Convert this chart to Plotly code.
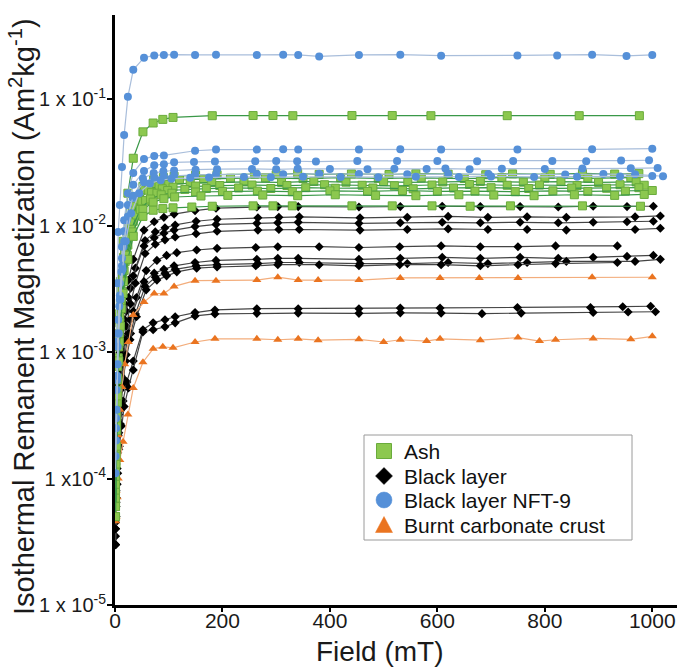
import plotly.graph_objects as go

# ---------------- data (field in mT, IRM in Am2/kg) ----------------
# Ash
ash_f1 = [1, 3, 5, 7, 10, 15, 24, 34, 52, 71, 89, 108, 181, 257, 294, 331, 441, 516, 588, 730, 864, 976]
ash_v1 = [1.2e-4, 4.5e-4, 1.1e-3, 2.0e-3, 3.6e-3, 7.5e-3, 0.018, 0.034, 0.055, 0.0646, 0.069, 0.0715, 0.0738, 0.0740, 0.0740, 0.0738, 0.0740, 0.0740, 0.0738, 0.0738, 0.0738, 0.0738]
ash_f2 = [1, 3, 5, 8, 11, 16, 22, 33, 52, 72, 90, 110, 150, 190, 260, 300, 340, 380, 440, 510, 560, 620, 690, 740, 810, 870, 930, 975]
ash_v2 = [1.0e-4, 3.1e-4, 7.7e-4, 1.8e-3, 3.1e-3, 5.6e-3, 8.9e-3, 0.014, 0.0204, 0.023, 0.024, 0.0245, 0.025, 0.0252, 0.0255, 0.0252, 0.0258, 0.0254, 0.0256, 0.0253, 0.0257, 0.0255, 0.0252, 0.0256, 0.0254, 0.0258, 0.0255, 0.0257]
ash_f3 = [1, 3, 6, 9, 13, 18, 25, 36, 55, 75, 95, 120, 165, 215, 280, 350, 420, 490, 570, 650, 720, 800, 880, 960]
ash_v3 = [8e-5, 2.8e-4, 9e-4, 1.9e-3, 3.6e-3, 6.2e-3, 9.8e-3, 0.0142, 0.0192, 0.0215, 0.0224, 0.0229, 0.0233, 0.0236, 0.0238, 0.0235, 0.0239, 0.0236, 0.0238, 0.0235, 0.0239, 0.0237, 0.0236, 0.0239]
ash_f4 = [1, 2, 4, 7, 10, 14, 20, 30, 45, 62, 82, 100, 140, 180, 240, 310, 370, 430, 500, 545, 610, 680, 760, 830, 900, 970]
ash_v4 = [7e-5, 1.6e-4, 5e-4, 1.3e-3, 2.4e-3, 4.2e-3, 7.0e-3, 0.0112, 0.0160, 0.0190, 0.0205, 0.0211, 0.0216, 0.0219, 0.0221, 0.0219, 0.0223, 0.0220, 0.0222, 0.0219, 0.0221, 0.0223, 0.0220, 0.0222, 0.0219, 0.0221]
ash_f5 = [1, 3, 5, 8, 12, 17, 24, 34, 50, 68, 88, 108, 150, 195, 255, 320, 390, 460, 520, 590, 660, 730, 790, 860, 940, 985]
ash_v5 = [6e-5, 2.4e-4, 6e-4, 1.4e-3, 2.6e-3, 4.4e-3, 7.0e-3, 0.0108, 0.0156, 0.0182, 0.0195, 0.0201, 0.0205, 0.0207, 0.0209, 0.0207, 0.0210, 0.0208, 0.0206, 0.0209, 0.0211, 0.0208, 0.0209, 0.0207, 0.0210, 0.0208]
ash_f6 = [1, 2, 4, 6, 9, 13, 19, 28, 40, 57, 78, 98, 130, 170, 230, 290, 355, 410, 480, 555, 630, 700, 770, 850, 915, 975]
ash_v6 = [5e-5, 1.3e-4, 4e-4, 8.5e-4, 1.7e-3, 3.0e-3, 5.2e-3, 8.4e-3, 0.0121, 0.0158, 0.0180, 0.0189, 0.0193, 0.0196, 0.0198, 0.0196, 0.0199, 0.0197, 0.0198, 0.0195, 0.0198, 0.0199, 0.0196, 0.0198, 0.0197, 0.0199]
ash_f7 = [1, 3, 5, 7, 11, 15, 21, 31, 47, 66, 86, 106, 150, 200, 265, 330, 400, 470, 535, 600, 670, 745, 815, 880, 950, 1000]
ash_v7 = [9e-5, 2.6e-4, 6.2e-4, 1.1e-3, 2.3e-3, 3.7e-3, 5.9e-3, 9.3e-3, 0.0134, 0.0162, 0.0175, 0.0180, 0.0184, 0.0186, 0.0187, 0.0185, 0.0188, 0.0186, 0.0189, 0.0186, 0.0187, 0.0185, 0.0188, 0.0186, 0.0187, 0.0189]
ash_f8 = [1, 2, 4, 8, 12, 16, 23, 33, 52, 71, 91, 111, 160, 210, 275, 340, 410, 485, 560, 640, 705, 780, 855, 930, 985]
ash_v8 = [6e-5, 1.5e-4, 4e-4, 1.2e-3, 2.2e-3, 3.6e-3, 5.8e-3, 8.9e-3, 0.0134, 0.0153, 0.0163, 0.0168, 0.0171, 0.0173, 0.0174, 0.0172, 0.0175, 0.0173, 0.0172, 0.0175, 0.0174, 0.0172, 0.0175, 0.0173, 0.0176]
ash_f9 = [1, 3, 5, 7, 10, 15, 24, 34, 52, 71, 89, 108, 143, 181, 257, 294, 330, 441, 516, 590, 661, 736, 870, 978]
ash_v9 = [5e-5, 1.8e-4, 4.5e-4, 8.5e-4, 1.6e-3, 2.9e-3, 5.4e-3, 8.2e-3, 0.0118, 0.0132, 0.0136, 0.0138, 0.0140, 0.0142, 0.0143, 0.0143, 0.0143, 0.0143, 0.0143, 0.0143, 0.0142, 0.0143, 0.0143, 0.0142]

# Black layer
blk_fa = [0.5, 2, 4, 6, 9, 13, 18, 25, 34, 54, 73, 91, 110, 149, 188, 264, 303, 341, 454, 531, 609, 680, 754, 825, 890, 953, 1002]
blk_fb = [1, 3, 5, 8, 11, 15, 21, 29, 38, 56, 75, 93, 112, 151, 190, 266, 305, 343, 456, 544, 620, 694, 767, 840, 968, 1015]
blk_fc = [1, 2, 4, 7, 10, 14, 20, 28, 40, 58, 78, 96, 115, 152, 190, 262, 303, 380, 454, 530, 607, 680, 750, 820, 935]
blk_v1 = [7e-5, 1.7e-4, 3.5e-4, 5.6e-4, 9.9e-4, 1.55e-3, 2.4e-3, 3.7e-3, 5.4e-3, 9.2e-3, 0.0107, 0.0116, 0.0123, 0.0131, 0.0137, 0.0140, 0.0141, 0.0141, 0.0140, 0.0141, 0.0142, 0.0141, 0.0141, 0.0140, 0.0142, 0.0141, 0.0142]
blk_v2 = [6e-5, 1.5e-4, 2.9e-4, 5.1e-4, 8.4e-4, 1.3e-3, 2.1e-3, 3.2e-3, 4.6e-3, 7.6e-3, 8.9e-3, 9.6e-3, 0.0101, 0.0108, 0.0112, 0.0115, 0.0116, 0.0117, 0.0115, 0.0116, 0.0118, 0.0116, 0.0117, 0.0116, 0.0117, 0.0119]
blk_v3 = [5e-5, 1.3e-4, 2.6e-4, 4.2e-4, 7.3e-4, 1.15e-3, 1.8e-3, 2.7e-3, 4.0e-3, 6.9e-3, 8.0e-3, 8.7e-3, 9.2e-3, 9.8e-3, 0.0102, 0.0104, 0.0105, 0.0106, 0.0104, 0.0105, 0.0106, 0.0105, 0.0106, 0.0105, 0.0106, 0.0107, 0.0108]
blk_v4 = [4.5e-5, 1.1e-4, 2.3e-4, 3.8e-4, 6.5e-4, 1.0e-3, 1.6e-3, 2.4e-3, 3.5e-3, 6.0e-3, 7.1e-3, 7.7e-3, 8.1e-3, 8.6e-3, 9.0e-3, 9.2e-3, 9.3e-3, 9.3e-3, 9.2e-3, 9.3e-3, 9.4e-3, 9.3e-3, 9.3e-3, 9.2e-3, 9.3e-3, 9.5e-3]
blk_v5 = [3.5e-5, 8e-5, 1.7e-4, 3.2e-4, 5e-4, 8e-4, 1.25e-3, 1.8e-3, 2.7e-3, 4.4e-3, 5.3e-3, 5.8e-3, 6.1e-3, 6.4e-3, 6.6e-3, 6.7e-3, 6.8e-3, 6.8e-3, 6.7e-3, 6.8e-3, 6.9e-3, 6.8e-3, 6.8e-3, 6.9e-3, 6.9e-3]
blk_v6 = [3e-5, 6.5e-5, 1.4e-4, 2.2e-4, 3.8e-4, 6.0e-4, 9.3e-4, 1.4e-3, 2.1e-3, 3.6e-3, 4.2e-3, 4.5e-3, 4.8e-3, 5.1e-3, 5.3e-3, 5.4e-3, 5.5e-3, 5.5e-3, 5.4e-3, 5.5e-3, 5.6e-3, 5.5e-3, 5.6e-3, 5.5e-3, 5.6e-3, 5.7e-3, 5.8e-3]
blk_v7 = [4e-5, 9e-5, 1.6e-4, 2.6e-4, 4.1e-4, 6.2e-4, 9.5e-4, 1.4e-3, 2.0e-3, 3.3e-3, 3.9e-3, 4.2e-3, 4.5e-3, 4.8e-3, 4.9e-3, 5.0e-3, 5.1e-3, 5.1e-3, 5.0e-3, 5.0e-3, 5.1e-3, 5.0e-3, 5.1e-3, 5.2e-3, 5.2e-3, 5.4e-3]
blk_v8 = [3e-5, 6e-5, 1.2e-4, 2.3e-4, 3.5e-4, 5.5e-4, 8.5e-4, 1.25e-3, 1.9e-3, 3.1e-3, 3.7e-3, 4.0e-3, 4.3e-3, 4.6e-3, 4.7e-3, 4.8e-3, 4.9e-3, 4.9e-3, 4.8e-3, 4.9e-3, 4.9e-3, 4.8e-3, 4.9e-3, 5.0e-3, 5.1e-3]
blk_f9 = [1, 2, 4, 7, 10, 15, 22, 34, 52, 71, 93, 112, 149, 186, 264, 341, 454, 531, 605, 749, 885, 945, 997]
blk_v9 = [3e-5, 5e-5, 9e-5, 1.7e-4, 2.7e-4, 4.1e-4, 5.8e-4, 8.5e-4, 1.5e-3, 1.7e-3, 1.8e-3, 1.9e-3, 2.05e-3, 2.15e-3, 2.2e-3, 2.2e-3, 2.2e-3, 2.23e-3, 2.23e-3, 2.25e-3, 2.25e-3, 2.28e-3, 2.3e-3]
blk_f10 = [1, 3, 5, 8, 12, 17, 25, 34, 52, 71, 93, 112, 149, 186, 264, 341, 454, 531, 607, 683, 756, 890, 955, 1006]
blk_v10 = [4e-5, 7e-5, 1.1e-4, 1.8e-4, 2.6e-4, 3.7e-4, 5.2e-4, 7.2e-4, 1.44e-3, 1.5e-3, 1.58e-3, 1.7e-3, 1.93e-3, 2.0e-3, 2.02e-3, 2.03e-3, 2.02e-3, 2.04e-3, 2.03e-3, 2.01e-3, 2.03e-3, 2.05e-3, 2.07e-3, 2.08e-3]

# Black layer NFT-9
nft_f1 = [2, 4, 6, 9, 13, 17, 24, 34, 54, 73, 91, 110, 149, 188, 264, 313, 341, 380, 454, 531, 607, 749, 823, 888, 952, 1000]
nft_v1 = [0.0012, 0.0035, 0.0089, 0.0145, 0.029, 0.052, 0.104, 0.17, 0.212, 0.221, 0.223, 0.224, 0.223, 0.224, 0.223, 0.224, 0.223, 0.217, 0.223, 0.224, 0.22, 0.221, 0.221, 0.224, 0.219, 0.223]
nft_f2 = [2, 4, 6, 9, 13, 17, 24, 34, 54, 73, 91, 149, 188, 264, 313, 341, 454, 531, 607, 749, 888, 1000]
nft_v2 = [0.0003, 0.0008, 0.0018, 0.0035, 0.0068, 0.011, 0.018, 0.026, 0.0335, 0.0355, 0.0358, 0.039, 0.0398, 0.0398, 0.0400, 0.0398, 0.0398, 0.0400, 0.0398, 0.0398, 0.0400, 0.0405]
nft_f3 = [2, 4, 6, 9, 13, 17, 24, 34, 54, 73, 91, 110, 147, 186, 261, 300, 339, 374, 451, 525, 600, 674, 741, 814, 877, 942, 994]
nft_v3 = [0.0002, 0.0006, 0.0014, 0.0028, 0.0055, 0.009, 0.0145, 0.021, 0.027, 0.030, 0.0305, 0.0316, 0.0318, 0.032, 0.0322, 0.0324, 0.0322, 0.032, 0.0324, 0.0324, 0.0324, 0.0322, 0.0324, 0.0324, 0.0322, 0.0326, 0.0328]
nft_f4 = [1, 3, 5, 8, 12, 16, 22, 33, 52, 72, 90, 110, 150, 190, 255, 300, 340, 400, 470, 520, 580, 615, 660, 720, 800, 870, 960, 1010]
nft_v4 = [1.5e-4, 5e-4, 1.1e-3, 2.3e-3, 4.3e-3, 6.8e-3, 0.011, 0.0165, 0.0235, 0.026, 0.0268, 0.0272, 0.0276, 0.0279, 0.028, 0.0278, 0.0281, 0.028, 0.0279, 0.0281, 0.028, 0.0282, 0.0279, 0.0281, 0.028, 0.0282, 0.0283, 0.0285]
nft_f5 = [2, 4, 6, 9, 13, 17, 24, 34, 54, 73, 91, 110, 149, 188, 264, 313, 380, 454, 544, 620, 695, 838, 909, 968, 1020]
nft_v5 = [2.5e-4, 6.5e-4, 1.4e-3, 2.6e-3, 4.8e-3, 7.5e-3, 0.0118, 0.0172, 0.022, 0.0238, 0.0245, 0.0248, 0.0251, 0.0253, 0.0255, 0.0254, 0.0256, 0.0255, 0.0254, 0.0256, 0.0255, 0.0253, 0.0255, 0.0254, 0.0245]
nft_f6 = [1, 3, 5, 7, 10, 14, 20, 30, 45, 65, 85, 105, 140, 175, 240, 290, 350, 420, 490, 560, 640, 700, 780, 860, 940, 1000]
nft_v6 = [1.1e-4, 3.5e-4, 8e-4, 1.4e-3, 2.6e-3, 4.5e-3, 7.5e-3, 0.0125, 0.0180, 0.0215, 0.0228, 0.0234, 0.0238, 0.024, 0.0242, 0.0241, 0.0243, 0.0242, 0.0241, 0.0243, 0.0242, 0.0244, 0.0242, 0.0243, 0.0244, 0.0246]

# Burnt carbonate crust
brn_f1 = [1, 2, 4, 6, 9, 13, 18, 25, 34, 54, 73, 91, 110, 149, 188, 264, 303, 341, 378, 454, 531, 605, 678, 750, 888, 1000]
brn_v1 = [5e-5, 8e-5, 1.4e-4, 2.2e-4, 3.5e-4, 5.3e-4, 8e-4, 1.2e-3, 1.96e-3, 2.48e-3, 2.9e-3, 2.9e-3, 3.3e-3, 3.66e-3, 3.66e-3, 3.7e-3, 3.9e-3, 3.7e-3, 3.7e-3, 3.7e-3, 3.85e-3, 3.85e-3, 3.85e-3, 3.85e-3, 3.9e-3, 3.9e-3]
brn_f2 = [1, 2, 4, 6, 9, 15, 24, 34, 52, 71, 89, 108, 149, 186, 264, 303, 341, 378, 454, 500, 531, 580, 605, 680, 750, 790, 820, 890, 960, 1000]
brn_v2 = [4.6e-5, 5e-5, 7.1e-5, 1.0e-4, 1.4e-4, 1.95e-4, 3.2e-4, 5.2e-4, 8.3e-4, 1.06e-3, 1.1e-3, 1.08e-3, 1.2e-3, 1.27e-3, 1.27e-3, 1.25e-3, 1.27e-3, 1.24e-3, 1.26e-3, 1.2e-3, 1.25e-3, 1.22e-3, 1.27e-3, 1.24e-3, 1.3e-3, 1.22e-3, 1.25e-3, 1.28e-3, 1.26e-3, 1.33e-3]

series_names = ["Ash", "Black layer", "Black layer NFT-9", "Burnt carbonate crust"]
y_tick_vals = [1e-5, 1e-4, 1e-3, 1e-2, 1e-1]
y_tick_text = ["1 x 10<sup>-5</sup>", "1 x10<sup>-4</sup>", "1 x 10<sup>-3</sup>",
               "1 x 10<sup>-2</sup>", "1 x 10<sup>-1</sup>"]
x_tick_vals = [0, 200, 400, 600, 800, 1000]

ash = [(ash_f1, ash_v1), (ash_f2, ash_v2), (ash_f3, ash_v3), (ash_f4, ash_v4), (ash_f5, ash_v5),
       (ash_f6, ash_v6), (ash_f7, ash_v7), (ash_f8, ash_v8), (ash_f9, ash_v9)]
black = [(blk_fa, blk_v1), (blk_fb, blk_v2), (blk_fa, blk_v3), (blk_fb, blk_v4), (blk_fc, blk_v5),
         (blk_fa, blk_v6), (blk_fb, blk_v7), (blk_fc, blk_v8), (blk_f9, blk_v9), (blk_f10, blk_v10)]
nft = [(nft_f1, nft_v1), (nft_f2, nft_v2), (nft_f3, nft_v3), (nft_f4, nft_v4), (nft_f5, nft_v5), (nft_f6, nft_v6)]
burnt = [(brn_f1, brn_v1), (brn_f2, brn_v2)]

# ---------------- styles ----------------
W, H = 677, 667
ML, MR, MT, MB = 115, 0, 15, 62
PW, PH = W - ML - MR, H - MT - MB

GREEN, GREEN_EDGE, GREEN_LINE = "#8cc84f", "#6aab3c", "#3a9848"
BLUE, BLUE_LINE = "#5590d8", "#a9bedb"
ORANGE, ORANGE_LINE = "#ea7420", "#f3ad7c"

styles = {
    "Ash": dict(line=GREEN_LINE, marker=dict(symbol="square", size=8, color=GREEN,
                                             line=dict(color=GREEN_EDGE, width=1))),
    "Black layer": dict(line="#444444", marker=dict(symbol="diamond", size=7, color="#000000")),
    "Black layer NFT-9": dict(line=BLUE_LINE, marker=dict(symbol="circle", size=8, color=BLUE)),
    "Burnt carbonate crust": dict(line=ORANGE_LINE, marker=dict(symbol="triangle-up", size=8, color=ORANGE)),
}

fig = go.Figure()

def add_group(name, curves):
    st = styles[name]
    for fx, vy in curves:
        fig.add_trace(go.Scatter(x=fx, y=vy, mode="lines+markers", showlegend=False, name=name,
                                 line=dict(color=st["line"], width=1.2),
                                 marker=st["marker"], hoverinfo="skip"))

add_group("Black layer", black)
add_group("Burnt carbonate crust", burnt)
add_group("Ash", ash)
add_group("Black layer NFT-9", nft)

font_family = "Liberation Sans, Arial, sans-serif"

# ---------------- legend drawn as box + keys + text ----------------
def px(x):
    return (x - ML) / PW

def py(y):
    return (H - MB - y) / PH

shapes = [dict(type="rect", xref="paper", yref="paper", x0=px(364), x1=px(632), y0=py(540), y1=py(435),
               line=dict(color="#9a9a9a", width=1), fillcolor="white", layer="above")]
row_y = [451, 476, 500, 525]
kx = 384
shapes.append(dict(type="rect", xref="paper", yref="paper", x0=px(kx - 7.5), x1=px(kx + 7.5),
                   y0=py(row_y[0] + 7.5), y1=py(row_y[0] - 7.5),
                   fillcolor=GREEN, line=dict(color=GREEN_EDGE, width=1), layer="above"))
d = 8.5
shapes.append(dict(type="path", xref="paper", yref="paper", layer="above",
                   path=f"M {px(kx)} {py(row_y[1]-d)} L {px(kx+d)} {py(row_y[1])} L {px(kx)} {py(row_y[1]+d)} L {px(kx-d)} {py(row_y[1])} Z",
                   fillcolor="#000000", line=dict(color="#000000", width=0.5)))
r = 8
shapes.append(dict(type="circle", xref="paper", yref="paper", layer="above",
                   x0=px(kx - r), x1=px(kx + r), y0=py(row_y[2] + r), y1=py(row_y[2] - r),
                   fillcolor=BLUE, line=dict(color=BLUE, width=0.5)))
t = 8.5
shapes.append(dict(type="path", xref="paper", yref="paper", layer="above",
                   path=f"M {px(kx)} {py(row_y[3]-t)} L {px(kx+t)} {py(row_y[3]+t-1)} L {px(kx-t)} {py(row_y[3]+t-1)} Z",
                   fillcolor=ORANGE, line=dict(color=ORANGE, width=0.5)))

annotations = []
for name, yy in zip(series_names, row_y):
    annotations.append(dict(text=name, xref="paper", yref="paper", x=px(402), y=py(yy),
                            xanchor="left", yanchor="middle", showarrow=False,
                            font=dict(size=21, color="#111111", family=font_family)))
# axis titles
annotations.append(dict(text="Field (mT)", xref="paper", yref="paper", x=px(380), y=py(651),
                        xanchor="center", yanchor="middle", showarrow=False,
                        font=dict(size=28, color="#1a1a1a", family=font_family)))
annotations.append(dict(text="Isothermal Remanent Magnetization (Am<sup>2</sup>kg<sup>-1</sup>)",
                        xref="paper", yref="paper", x=px(22), y=py(317), textangle=-90,
                        xanchor="center", yanchor="middle", showarrow=False,
                        font=dict(size=29, color="#1a1a1a", family=font_family)))

fig.update_layout(
    width=W, height=H,
    margin=dict(l=ML, r=MR, t=MT, b=MB),
    paper_bgcolor="white", plot_bgcolor="white",
    font=dict(family=font_family, size=21, color="#1a1a1a"),
    showlegend=False,
    shapes=shapes,
    annotations=annotations,
    xaxis=dict(range=[0, 1046], tickmode="array", tickvals=x_tick_vals, automargin=False,
               showgrid=False, zeroline=False, showline=True, linecolor="black", linewidth=3,
               ticks="outside", ticklen=4, tickwidth=2, tickcolor="black",
               tickfont=dict(size=21), ticklabelstandoff=-9),
    yaxis=dict(type="log", range=[-5, -0.336], tickmode="array", automargin=False,
               tickvals=y_tick_vals, ticktext=y_tick_text,
               showgrid=False, zeroline=False, showline=True, linecolor="black", linewidth=3,
               ticks="outside", ticklen=5, tickwidth=2, tickcolor="black",
               tickfont=dict(size=20), ticklabelstandoff=-3),
)

fig.write_html("out.html", config={"displayModeBar": False},
               post_script="document.body.style.margin='0px';")
